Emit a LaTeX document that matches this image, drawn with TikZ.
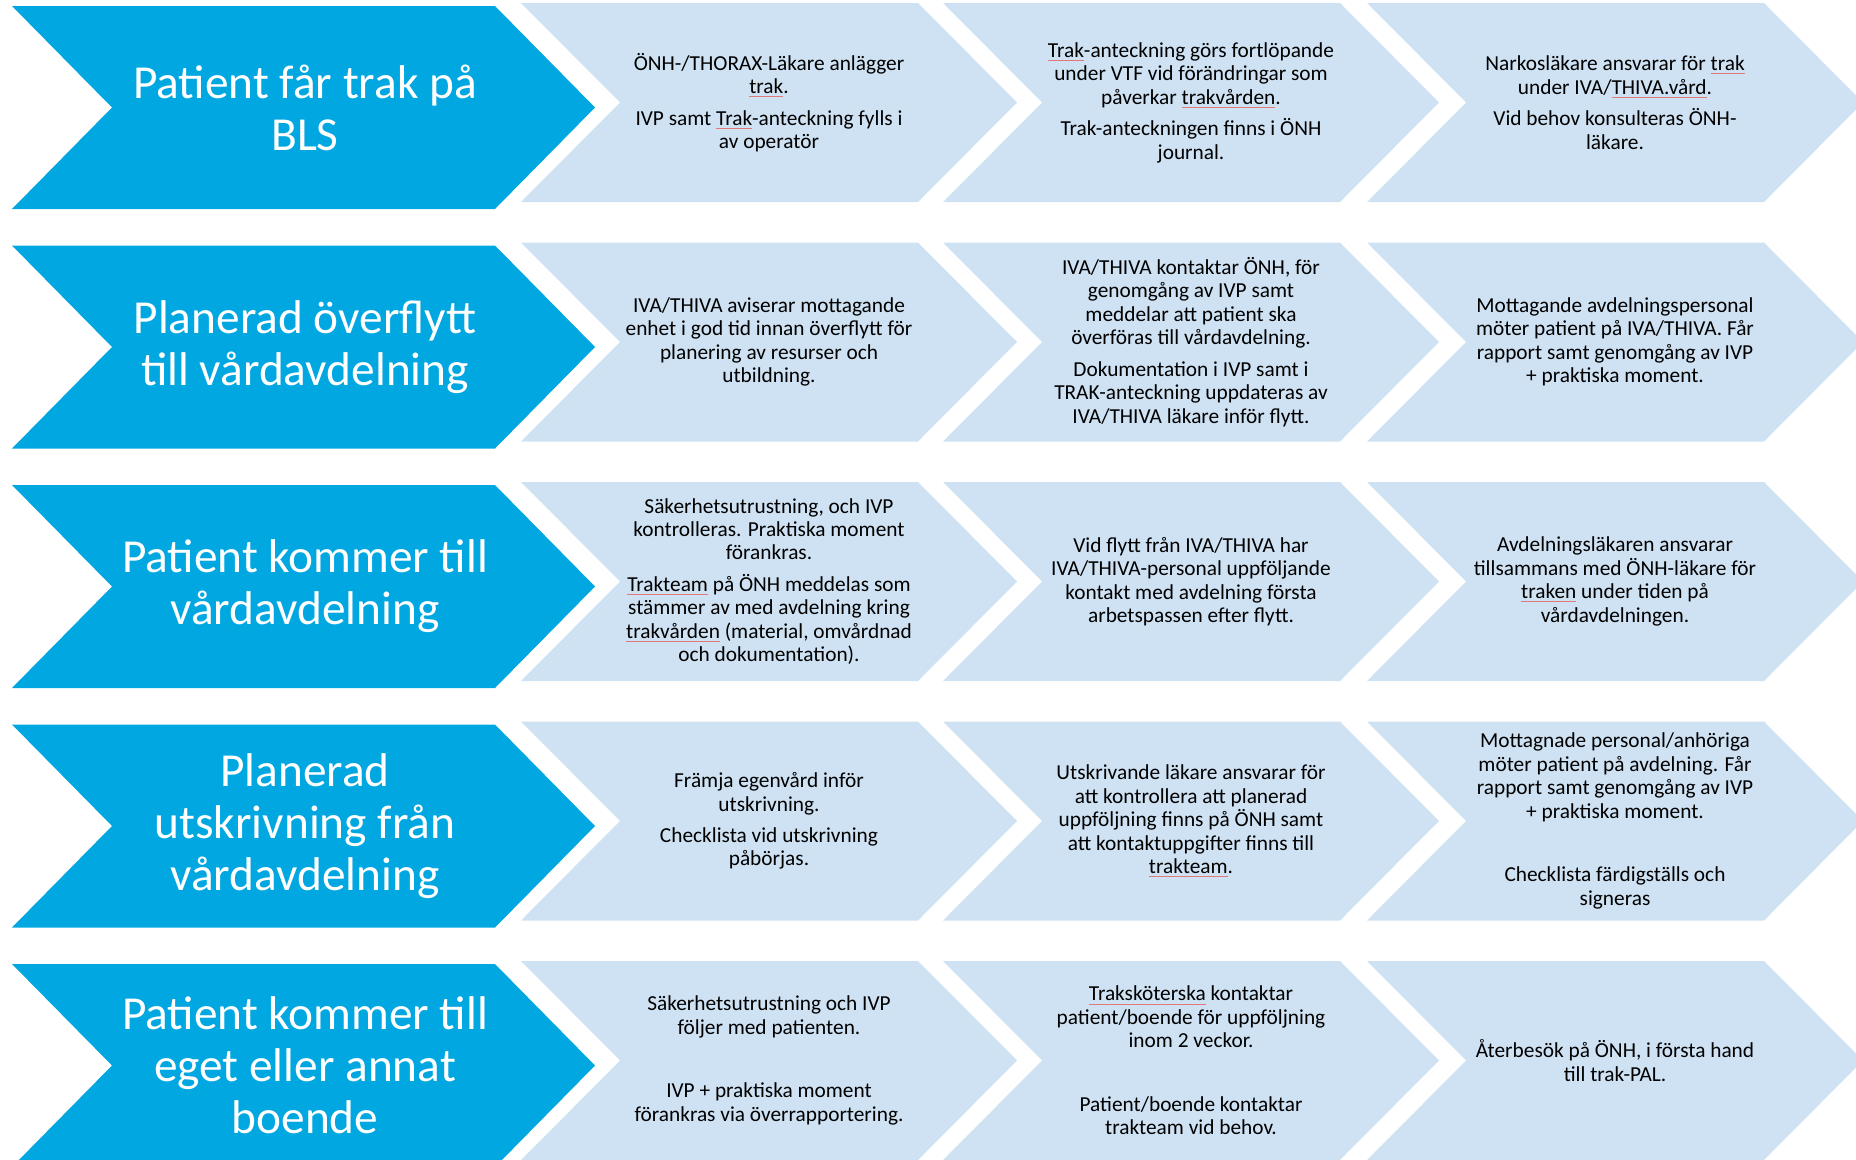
\documentclass[tikz,border=0pt]{standalone}
\usepackage{fontspec}
\setmainfont{Carlito}
\definecolor{stageblue}{RGB}{0,167,225}
\definecolor{steplight}{RGB}{207,226,243}
\definecolor{spellred}{RGB}{226,120,120}
% thin red spell-check line under a word
\newcommand\squig[1]{\leavevmode\setbox0=\hbox{#1}\rlap{\color{spellred}\rule[-2.6pt]{\wd0}{0.6pt}}\box0\relax}

\begin{document}
\begin{tikzpicture}[x=0.75pt,y=-0.75pt,
  stagetext/.style={text=white, align=center, inner sep=0pt, font=\fontsize{35.5}{39}\selectfont},
  steptext/.style={text=black, align=center, inner sep=0pt, font=\fontsize{16}{17.6}\selectfont},
  stagechev/.pic={\fill[stageblue] (0,0) -- (483,0) -- (583,101.5) -- (483,203) -- (0,203) -- (100,101.5) -- cycle;},
  stepchev/.pic={\fill[steplight] (0,0) -- (397,0) -- (496,99.5) -- (397,199) -- (0,199) -- (99,99.5) -- cycle;},
]
\useasboundingbox (0,0) rectangle (1856,1160);
\clip (0,0) rectangle (1856,1160);

% chevron rows
\foreach \r in {0,...,4} {
  \pgfmathsetmacro\ytop{239.5*\r}
  \pic at (12,{6+\ytop}) {stagechev};
  \foreach \L in {521,943,1367} \pic at (\L,{3+\ytop}) {stepchev};
}

% row 1
\node[stagetext] (s1) at (305,107.5) {Patient får trak på\\BLS};
\node[steptext] (a1) at (769,102.5) {ÖNH-/THORAX-Läkare anlägger\\\squig{trak}.\\[6pt]IVP samt \squig{Trak}-anteckning fylls i\\av operatör};
\node[steptext] (b1) at (1191,102.5) {\squig{Trak}-anteckning görs fortlöpande\\under VTF vid förändringar som\\påverkar \squig{trakvården}.\\[6pt]Trak-anteckningen finns i ÖNH\\journal.};
\node[steptext] (c1) at (1615,102.5) {Narkosläkare ansvarar för \squig{trak}\\under IVA/\squig{THIVA.vård}.\\[6pt]Vid behov konsulteras ÖNH-\\läkare.};

% row 2
\node[stagetext] (s2) at (305,347) {Planerad överflytt\\till vårdavdelning};
\node[steptext] (a2) at (769,342) {IVA/THIVA aviserar mottagande\\enhet i god tid innan överflytt för\\planering av resurser och\\utbildning.};
\node[steptext] (b2) at (1191,342) {IVA/THIVA kontaktar ÖNH, för\\genomgång av IVP samt\\meddelar att patient ska\\överföras till vårdavdelning.\\[6pt]Dokumentation i IVP samt i\\TRAK-anteckning uppdateras av\\IVA/THIVA läkare inför flytt.};
\node[steptext] (c2) at (1615,342) {Mottagande avdelningspersonal\\möter patient på IVA/THIVA. Får\\rapport samt genomgång av IVP\\+ praktiska moment.};

% row 3
\node[stagetext] (s3) at (305,586.5) {Patient kommer till\\vårdavdelning};
\node[steptext] (a3) at (769,581.5) {Säkerhetsutrustning, och IVP\\kontrolleras. Praktiska moment\\förankras.\\[6pt]\squig{Trakteam} på ÖNH meddelas som\\stämmer av med avdelning kring\\\squig{trakvården} (material, omvårdnad\\och dokumentation).};
\node[steptext] (b3) at (1191,581.5) {Vid flytt från IVA/THIVA har\\IVA/THIVA-personal uppföljande\\kontakt med avdelning första\\arbetspassen efter flytt.};
\node[steptext] (c3) at (1615,581.5) {Avdelningsläkaren ansvarar\\tillsammans med ÖNH-läkare för\\\squig{traken} under tiden på\\vårdavdelningen.};

% row 4
\node[stagetext] (s4) at (305,826) {Planerad\\utskrivning från\\vårdavdelning};
\node[steptext] (a4) at (769,821) {Främja egenvård inför\\utskrivning.\\[6pt]Checklista vid utskrivning\\påbörjas.};
\node[steptext] (b4) at (1191,821) {Utskrivande läkare ansvarar för\\att kontrollera att planerad\\uppföljning finns på ÖNH samt\\att kontaktuppgifter finns till\\\squig{trakteam}.};
\node[steptext] (c4) at (1615,821) {Mottagnade personal/anhöriga\\möter patient på avdelning. Får\\rapport samt genomgång av IVP\\+ praktiska moment.\\[30pt]Checklista färdigställs och\\signeras};

% row 5
\node[stagetext] (s5) at (305,1065.5) {Patient kommer till\\eget eller annat\\boende};
\node[steptext] (a5) at (769,1060.5) {Säkerhetsutrustning och IVP\\följer med patienten.\\[30pt]IVP + praktiska moment\\förankras via överrapportering.};
\node[steptext] (b5) at (1191,1060.5) {\squig{Traksköterska} kontaktar\\patient/boende för uppföljning\\inom 2 veckor.\\[30pt]Patient/boende kontaktar\\trakteam vid behov.};
\node[steptext] (c5) at (1615,1060.5) {Återbesök på ÖNH, i första hand\\till trak-PAL.};
\end{tikzpicture}
\end{document}
